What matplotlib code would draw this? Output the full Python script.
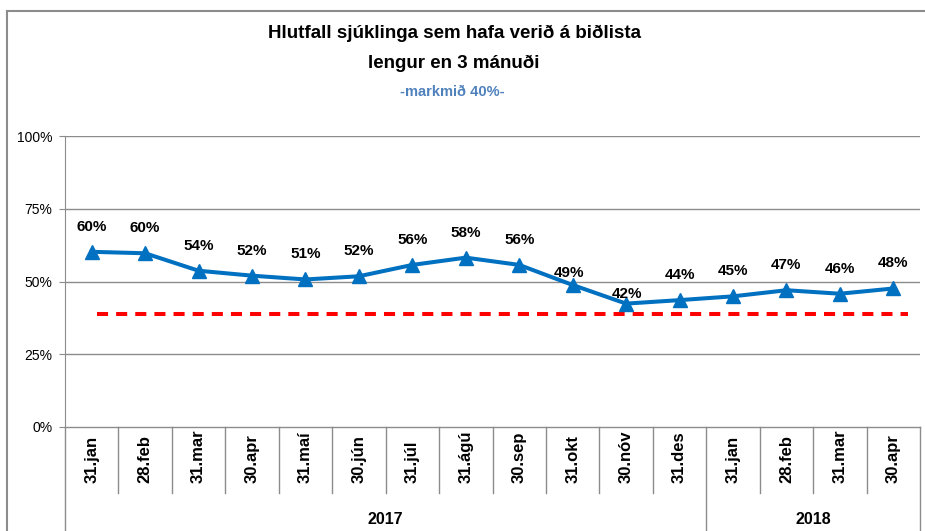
import numpy as np
import matplotlib
matplotlib.use('Agg')
import matplotlib.pyplot as plt
from matplotlib.lines import Line2D
import matplotlib.transforms as mtransforms

plt.rcParams['font.family'] = ['Liberation Sans', 'DejaVu Sans']

# ---- data ----
dates = ['31.jan', '28.feb', '31.mar', '30.apr', '31.maí', '30.jún', '31.júl', '31.ágú',
         '30.sep', '31.okt', '30.nóv', '31.des', '31.jan', '28.feb', '31.mar', '30.apr']
values = [60.2, 59.7, 53.7, 52.0, 50.7, 51.8, 55.7, 58.2,
          55.7, 48.8, 42.4, 43.6, 44.9, 47.0, 45.8, 47.6]
years = ['2017', '2018']
year_counts = [12, 4]
target = 38.7

title1 = 'Hlutfall sjúklinga sem hafa verið á biðlista'
title2 = 'lengur en 3 mánuði'
subtitle = '-markmið 40%-'

blue = '#0070C0'
grid_c = '#8C8C8C'

W, H = 925, 531
fig = plt.figure(figsize=(W / 100, H / 100), dpi=100)
left, right, top, bottom = 65, 920, 136, 427
ax = fig.add_axes([left / W, 1 - bottom / H, (right - left) / W, (bottom - top) / H])

n = len(dates)
x = np.arange(n)
ax.set_xlim(-0.5, n - 0.5)
ax.set_ylim(0, 100)

# gridlines
for yv in [25, 50, 75, 100]:
    ax.axhline(yv, color=grid_c, lw=1.0, zorder=1)

# target line
ax.hlines(target, 0.1, n - 0.73, colors='#FF0000', lw=2.9, linestyles=(0, (2.75, 2.0)), zorder=2)

# main series
ax.plot(x, values, color=blue, lw=2.9, marker='^', markersize=10, zorder=3)

# data labels (px offsets, some moved by hand in the original)
offsets = {9: (-4, 12), 10: (1, 10)}
for i, v in enumerate(values):
    dx, dy = offsets.get(i, (0, 25))
    ax.annotate('{:.0f}%'.format(v), (x[i], v), xytext=(dx * 0.72, dy * 0.72),
                textcoords='offset points', ha='center', va='center',
                fontsize=11, fontweight='bold', color='black', zorder=4)

# axes styling
for s in ['top', 'right', 'bottom']:
    ax.spines[s].set_visible(False)
ax.spines['left'].set_color(grid_c)
ax.set_yticks([0, 25, 50, 75, 100])
ax.set_yticklabels(['0%', '25%', '50%', '75%', '100%'], fontsize=10)
ax.tick_params(axis='y', length=4, color=grid_c, pad=5)
ax.set_xticks([])

# category axis boxes
trans = mtransforms.blended_transform_factory(ax.transData, ax.transAxes)
y_cat = -(493 - bottom) / (bottom - top)
y_fig = -(H - bottom) / (bottom - top)
ax.plot([-0.5, n - 0.5], [0, 0], color=grid_c, lw=1.0, transform=trans, clip_on=False)
bounds_full = [-0.5, n - 0.5]
acc = -0.5
for c in year_counts[:-1]:
    acc += c
    bounds_full.append(acc)
for k in range(n + 1):
    b = k - 0.5
    y_end = y_fig if b in bounds_full else y_cat
    ax.plot([b, b], [0, y_end], color=grid_c, lw=1.0, transform=trans, clip_on=False)

y_lab = -(483 - bottom) / (bottom - top)
for i, d in enumerate(dates):
    ax.text(x[i], y_lab, d, rotation=90, ha='center', va='bottom', fontsize=12,
            fontweight='bold', transform=trans)

y_year = -(519 - bottom) / (bottom - top)
start = -0.5
for yr, c in zip(years, year_counts):
    ax.text(start + c / 2, y_year, yr, ha='center', va='center', fontsize=11.5,
            fontweight='bold', transform=trans)
    start += c

# titles
fig.text(454 / W, 1 - 33 / H, title1, ha='center', va='center', fontsize=13.5, fontweight='bold')
fig.text(454 / W, 1 - 63 / H, title2, ha='center', va='center', fontsize=13.5, fontweight='bold')
fig.text(452 / W, 1 - 92 / H, subtitle, ha='center', va='center', fontsize=10.5,
         fontweight='bold', color='#4F81BD')

# outer chart border
fig.add_artist(Line2D([7 / W, 1], [1 - 11 / H, 1 - 11 / H], color='#8C8C8C', lw=1.5))
fig.add_artist(Line2D([7 / W, 7 / W], [0, 1 - 11 / H], color='#8C8C8C', lw=1.5))

fig.savefig('out.png', dpi=100)
